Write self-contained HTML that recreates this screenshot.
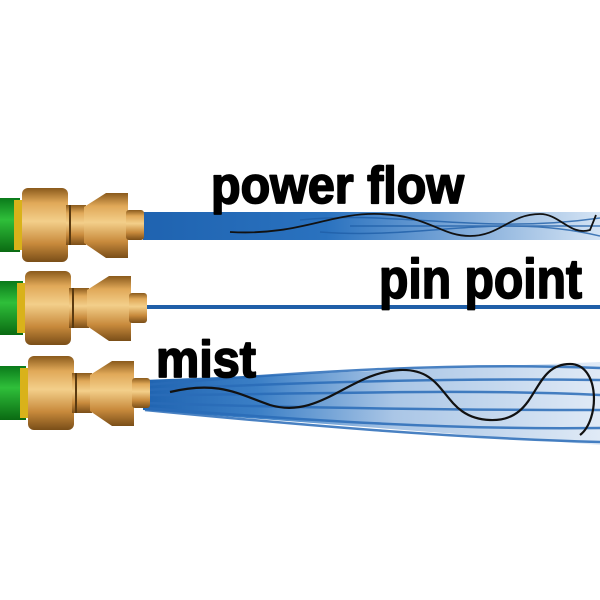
<!DOCTYPE html>
<html><head><style>html,body{margin:0;padding:0;background:#fff}svg{display:block}</style></head>
<body>
<svg width="600" height="600" viewBox="0 0 600 600" xmlns="http://www.w3.org/2000/svg">
<defs>
<linearGradient id="brass" x1="0" y1="0" x2="0" y2="1">
<stop offset="0" stop-color="#8a5a1c"/><stop offset="0.2" stop-color="#e0a858"/><stop offset="0.45" stop-color="#f3cf8a"/><stop offset="0.75" stop-color="#c88a3c"/><stop offset="1" stop-color="#7a4e18"/>
</linearGradient>
<linearGradient id="green" x1="0" y1="0" x2="0" y2="1">
<stop offset="0" stop-color="#0a7a1a"/><stop offset="0.4" stop-color="#2fbf3a"/><stop offset="1" stop-color="#0a6a12"/>
</linearGradient>
<linearGradient id="fade" x1="0" y1="0" x2="1" y2="0">
<stop offset="0" stop-color="#1f63b0"/><stop offset="0.4" stop-color="#2a72bf"/><stop offset="0.7" stop-color="#7faad9"/><stop offset="1" stop-color="#d5e4f4"/>
</linearGradient>
<linearGradient id="fade2" x1="0" y1="0" x2="1" y2="0">
<stop offset="0" stop-color="#1f63b0"/><stop offset="0.25" stop-color="#3b7fc6"/><stop offset="0.55" stop-color="#aac6e6"/><stop offset="1" stop-color="#e0eaf6"/>
</linearGradient>
<g id="noz">
<rect x="-25" y="-27" width="45" height="54" fill="url(#green)"/>
<rect x="14" y="-25" width="10" height="50" fill="#d9b21a"/>
<rect x="22" y="-37" width="46" height="74" rx="6" fill="url(#brass)"/>
<rect x="66" y="-20" width="20" height="40" fill="url(#brass)"/>
<line x1="70" y1="-20" x2="70" y2="20" stroke="#5a3a10" stroke-width="2"/>
<path d="M84 -18 L106 -32 L128 -32 L128 33 L106 33 L84 18 Z" fill="url(#brass)"/>
<rect x="126" y="-15" width="18" height="30" rx="3" fill="url(#brass)"/>
</g>
</defs>

<!-- top stream -->
<path d="M143 212 L600 212 L600 240 L143 240 Z" fill="url(#fade)"/>
<g fill="none" stroke="#1f5fa8" stroke-width="1.5" opacity="0.8">
<path d="M300 220 C400 210 480 235 600 218"/>
<path d="M320 232 C420 240 500 212 600 236"/>
<path d="M350 226 C450 226 520 226 600 226"/>
</g>
<path d="M230 232 C300 236 330 212 380 214 C430 216 440 236 470 236 C500 236 510 214 540 214 C560 214 570 236 590 230 L596 215" fill="none" stroke="#111" stroke-width="1.8"/>

<!-- middle stream -->
<rect x="143" y="305" width="457" height="4" fill="#1f5fa8"/>

<!-- bottom stream -->
<path d="M143 380 L600 362 L600 445 L143 410 Z" fill="url(#fade2)"/>
<g fill="none" stroke="#2a6cb8" stroke-width="2.5" opacity="0.85">
<path d="M145 385 C300 372 450 362 600 368"/>
<path d="M145 390 C300 382 450 378 600 380"/>
<path d="M145 395 C300 395 450 388 600 395"/>
<path d="M145 403 C300 408 450 410 600 410"/>
<path d="M145 408 C300 420 450 430 600 428"/>
<path d="M145 410 C300 425 450 438 600 442"/>
</g>
<path d="M170 392 C220 380 240 395 270 405 C320 420 350 372 400 370 C450 368 440 418 490 420 C540 422 530 364 570 364 C600 364 600 420 580 435" fill="none" stroke="#111" stroke-width="2.2"/>

<use href="#noz" transform="translate(0,225)"/>
<use href="#noz" transform="translate(3,308)"/>
<use href="#noz" transform="translate(6,393)"/>

<g font-family="Liberation Sans, sans-serif" font-weight="bold" fill="#000" stroke="#000" stroke-width="1.8" stroke-linejoin="round">
<text x="211" y="203" font-size="52" textLength="253" lengthAdjust="spacingAndGlyphs">power flow</text>
<text x="379" y="298" font-size="56" textLength="203" lengthAdjust="spacingAndGlyphs">pin point</text>
<text x="156" y="377" font-size="52" textLength="100" lengthAdjust="spacingAndGlyphs">mist</text>
</g>
</svg>
</body></html>
